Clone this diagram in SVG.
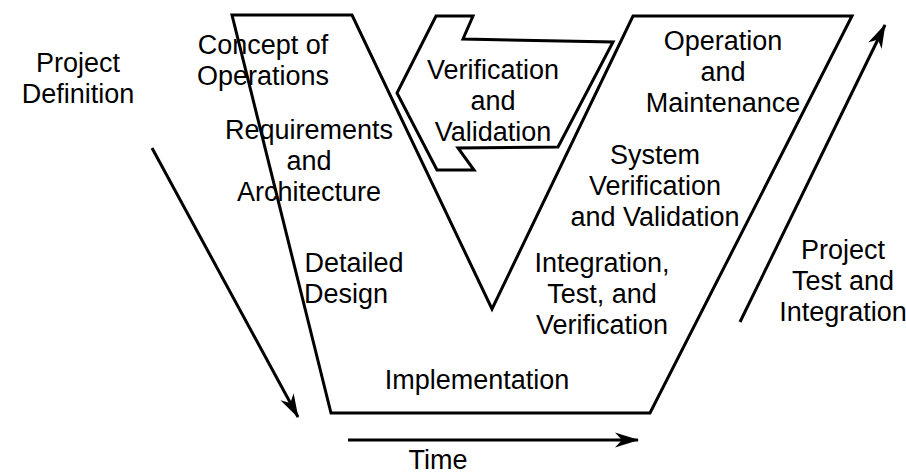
<svg xmlns="http://www.w3.org/2000/svg" width="906" height="474" viewBox="0 0 906 474">
  <style>
    .shape { fill: none; stroke: #000; stroke-width: 3; stroke-linejoin: miter; }
    .flow { fill: none; stroke: #000; stroke-width: 3; }
    text { font-family: "Liberation Sans", Arial, sans-serif; font-size: 27px; fill: #000; text-anchor: middle; }
  </style>
  <defs>
    <!-- notched arrowhead shared by the three flow arrows -->
    <marker id="head" markerWidth="26" markerHeight="16" refX="23" refY="8" orient="auto" markerUnits="userSpaceOnUse">
      <path d="M0,0.5 L24,8 L0,15.5 L7,8 Z" fill="#000"/>
    </marker>
  </defs>

  <rect width="906" height="474" fill="#fff"/>

  <!-- V outline -->
  <g id="v-model">
    <polygon class="shape" points="232,15 352,15 492,309 633,16 852,16 650,413 331,413"/>
  </g>

  <!-- verification and validation arrow -->
  <g id="vv-arrow">
    <polygon class="shape" points="436,16 473,16 463,39 613,42 558,147 458,148 474,170 437,170 397,93"/>
    <text x="493" y="79">Verification</text>
    <text x="493" y="110">and</text>
    <text x="493" y="141">Validation</text>
  </g>

  <g id="concept">
    <text x="263" y="54">Concept of</text>
    <text x="263" y="85">Operations</text>
  </g>
  <g id="requirements">
    <text x="309" y="139">Requirements</text>
    <text x="309" y="170">and</text>
    <text x="309" y="201">Architecture</text>
  </g>
  <g id="detailed-design">
    <text x="354" y="272">Detailed</text>
    <text x="346" y="303">Design</text>
  </g>
  <g id="implementation">
    <text x="477" y="389">Implementation</text>
  </g>
  <g id="integration">
    <text x="602" y="272">Integration,</text>
    <text x="602" y="303">Test, and</text>
    <text x="602" y="334">Verification</text>
  </g>
  <g id="system-vv">
    <text x="655" y="164">System</text>
    <text x="655" y="195">Verification</text>
    <text x="655" y="226">and Validation</text>
  </g>
  <g id="operation">
    <text x="723" y="50">Operation</text>
    <text x="723" y="81">and</text>
    <text x="723" y="112">Maintenance</text>
  </g>
  <g id="project-definition">
    <text x="78" y="72">Project</text>
    <text x="78" y="103">Definition</text>
  </g>
  <g id="project-test">
    <text x="843" y="259">Project</text>
    <text x="843" y="290">Test and</text>
    <text x="843" y="321">Integration</text>
  </g>
  <g id="time">
    <text x="438" y="469">Time</text>
  </g>

  <!-- connectors -->
  <g id="connectors">
    <line class="flow" x1="152" y1="148" x2="298" y2="417" marker-end="url(#head)"/>
    <line class="flow" x1="740" y1="322" x2="885" y2="25" marker-end="url(#head)"/>
    <line class="flow" x1="348" y1="440" x2="638" y2="440" marker-end="url(#head)"/>
  </g>
</svg>
